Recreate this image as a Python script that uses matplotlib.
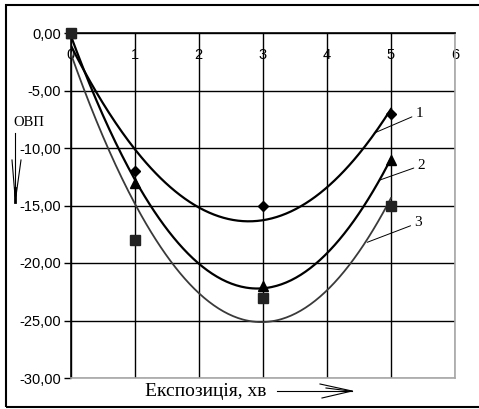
import numpy as np
import matplotlib
matplotlib.use("Agg")
from matplotlib import pyplot as plt
from matplotlib.patches import Rectangle
from matplotlib.lines import Line2D

plt.rcParams['font.family'] = 'Liberation Sans'

# exposure, min
x = [0, 1, 3, 5]
# redox potential for the three samples
y1 = [0, -12, -15, -7]
y2 = [0, -13, -22, -11]
y3 = [0, -18, -23, -15]
curve_labels = ['1', '2', '3']

x_ticks = [0, 1, 2, 3, 4, 5, 6]
y_ticks = [0, -5, -10, -15, -20, -25, -30]

fig = plt.figure(figsize=(4.79, 4.09), dpi=100)
ax = fig.add_axes([70.5/479, 1-378/409, (455-70.5)/479, (378-33)/409])

# second order trend lines, like the spreadsheet does
xs = np.linspace(0, 5, 200)
styles = [dict(color='black', lw=1.6), dict(color='black', lw=1.6), dict(color='#3a3a3a', lw=1.3)]
for ys, st in zip([y1, y2, y3], styles):
    p = np.polyfit(x, ys, 2)
    ax.plot(xs, np.polyval(p, xs), zorder=3, **st)

ax.plot(x, y1, 'D', color='black', ms=5, zorder=4, clip_on=False)
ax.plot(x, y2, '^', color='black', ms=7.5, zorder=4, clip_on=False)
ax.plot(x, y3, 's', color='#222222', ms=7, zorder=5, clip_on=False)

ax.set_xlim(0, 6)
ax.set_ylim(-30, 0)
ax.set_xticks(x_ticks)
ax.set_yticks(y_ticks)
ax.set_yticklabels([('%.2f' % v).replace('.', ',') for v in y_ticks], fontsize=10.5)
ax.set_xticklabels([str(v) for v in x_ticks], fontsize=10.5)
ax.grid(True, color='black', lw=1)
ax.set_axisbelow(True)

ax.xaxis.set_ticks_position('top')
ax.tick_params(axis='x', top=True, bottom=False, labeltop=True, labelbottom=False,
               length=0, pad=-21)
ax.tick_params(axis='y', direction='out', length=5, width=1, pad=2)

ax.spines['top'].set_color('black')
ax.spines['left'].set_color('black')
ax.spines['right'].set_color('#a8a8a8')
ax.spines['bottom'].set_color('#a8a8a8')
for s in ax.spines.values():
    s.set_linewidth(1.2)

# curve numbers with leader lines
label_pos = [(5.45, -7.0), (5.48, -11.5), (5.43, -16.5)]
leader_pts = [(4.74, -8.7), (4.82, -12.8), (4.63, -18.2)]
for t, (tx, ty), (px_, py_) in zip(curve_labels, label_pos, leader_pts):
    ax.annotate(t, xy=(px_, py_), xytext=(tx, ty), fontsize=11, family='Liberation Serif',
                ha='center', va='center', zorder=6,
                arrowprops=dict(arrowstyle='-', lw=0.7, color='black', shrinkA=1, shrinkB=0))

# outer frame
fig.patches.append(Rectangle((6/479, 1-407/409), 1.0, (407-5)/409, transform=fig.transFigure,
                             fill=False, ec='black', lw=1.5))

fig.text(13/479, 1-122/409, 'ОВП', family='Liberation Serif', fontsize=10.5, ha='left', va='center')
fig.text(145/479, 1-391/409, 'Експозиція, хв', family='Liberation Serif', fontsize=14,
         ha='left', va='center')

# hand drawn arrows for the axis titles
def px(xp, yp):
    return xp/479, 1-yp/409

for (a, b) in [((15, 133), (15, 202)), ((12, 160), (15, 196)), ((21, 160), (16, 196))]:
    (x0, y0), (x1, y1_) = px(*a), px(*b)
    fig.lines.append(Line2D([x0, x1], [y0, y1_], transform=fig.transFigure, color='black', lw=0.8))
(x0, y0), (x1, y1_) = px(15, 188), px(15, 202)
fig.lines.append(Line2D([x0, x1], [y0, y1_], transform=fig.transFigure, color='black', lw=2))

for (a, b) in [((277, 391), (352, 391)), ((320, 384), (352, 391)), ((322, 398), (352, 391)),
               ((326, 388), (350, 391))]:
    (x0, y0), (x1, y1_) = px(*a), px(*b)
    fig.lines.append(Line2D([x0, x1], [y0, y1_], transform=fig.transFigure, color='black', lw=0.8))

plt.savefig('out.png', dpi=100)
